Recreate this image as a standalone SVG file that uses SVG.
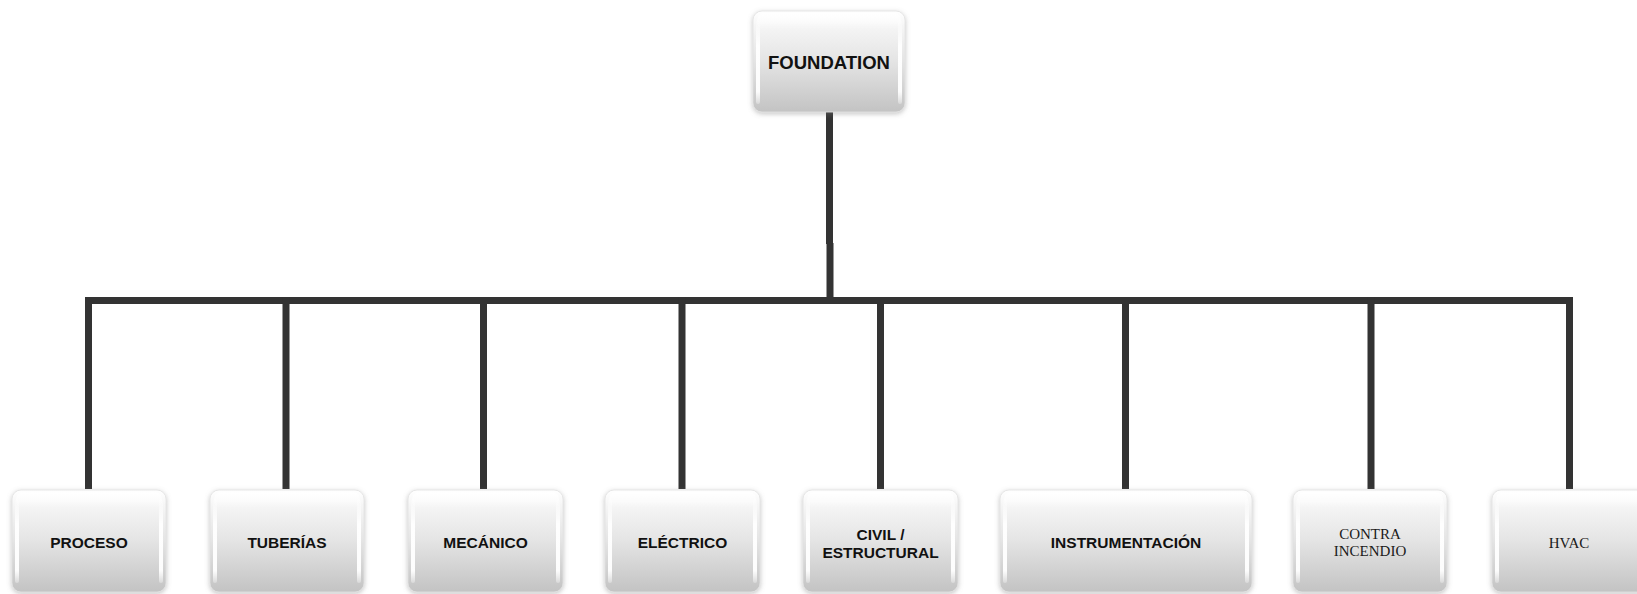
<svg xmlns="http://www.w3.org/2000/svg" width="1637" height="594" viewBox="0 0 1637 594">
  <defs>
    <linearGradient id="body" x1="0" y1="0" x2="0" y2="1">
      <stop offset="0" stop-color="#ffffff"/>
      <stop offset="0.14" stop-color="#f6f6f6"/>
      <stop offset="0.5" stop-color="#e4e4e4"/>
      <stop offset="1" stop-color="#c3c3c3"/>
    </linearGradient>
    <linearGradient id="gloss" x1="0" y1="0" x2="0" y2="1">
      <stop offset="0" stop-color="#ffffff" stop-opacity="0.95"/>
      <stop offset="1" stop-color="#ffffff" stop-opacity="0"/>
    </linearGradient>
    <linearGradient id="side" x1="0" y1="0" x2="0" y2="1">
      <stop offset="0" stop-color="#ffffff" stop-opacity="0.2"/>
      <stop offset="0.3" stop-color="#ffffff" stop-opacity="0.95"/>
      <stop offset="0.85" stop-color="#ffffff" stop-opacity="0.95"/>
      <stop offset="1" stop-color="#ffffff" stop-opacity="0.3"/>
    </linearGradient>
    <filter id="halo" x="-20%" y="-20%" width="140%" height="140%">
      <feDropShadow dx="0" dy="1.5" stdDeviation="2.5" flood-color="#7a7a7a" flood-opacity="0.45"/>
    </filter>
    <style>
      .box { fill: url(#body); stroke: #e2e2e2; stroke-width: 0.8; filter: url(#halo); }
      .gloss { fill: url(#gloss); }
      .side { fill: url(#side); }
      .lbl { font-family: "Liberation Sans", Arial, sans-serif; font-weight: bold; font-size: 15.5px; fill: #111; text-anchor: middle; }
      .top { font-size: 18.5px; }
      .serif { font-family: "Liberation Serif", "Times New Roman", serif; font-weight: normal; font-size: 15px; fill: #1a1a1a; }
      .wire { stroke: #333333; stroke-width: 7; fill: none; }
    </style>
  </defs>

  <rect width="1637" height="594" fill="#ffffff"/>

  <!-- connectors: trunk, bus and drops -->
  <g id="connectors">
    <line class="wire" x1="829.5" y1="108" x2="829.5" y2="244"/>
    <line class="wire" x1="830" y1="243" x2="830" y2="302"/>
    <line class="wire" x1="85" y1="300.5" x2="1573" y2="300.5"/>
    <path class="wire" d="M88.5 297 V489 M286 297 V489 M483.5 297 V489 M682 297 V489 M880.5 297 V489 M1125.5 297 V489 M1371 297 V489 M1569.5 297 V489"/>
  </g>

  <!-- top node -->
  <g id="node-foundation">
    <rect class="box" x="753" y="11" width="152" height="101" rx="9"/>
    <rect class="gloss" x="757" y="13" width="144" height="16" rx="7"/>
    <rect class="side" x="756" y="20" width="4" height="84" rx="2"/>
    <rect class="side" x="898" y="20" width="4" height="84" rx="2"/>
    <text class="lbl top" x="829" y="68.5">FOUNDATION</text>
  </g>

  <!-- discipline nodes -->
  <g id="node-proceso">
    <rect class="box" x="12" y="490" width="154" height="102" rx="9"/>
    <rect class="gloss" x="16" y="492" width="146" height="16" rx="7"/>
    <rect class="side" x="15" y="499" width="4" height="84" rx="2"/>
    <rect class="side" x="159" y="499" width="4" height="84" rx="2"/>
    <text class="lbl" x="89" y="547.5">PROCESO</text>
  </g>

  <g id="node-tuberias">
    <rect class="box" x="210" y="490" width="154" height="102" rx="9"/>
    <rect class="gloss" x="214" y="492" width="146" height="16" rx="7"/>
    <rect class="side" x="213" y="499" width="4" height="84" rx="2"/>
    <rect class="side" x="357" y="499" width="4" height="84" rx="2"/>
    <text class="lbl" x="287" y="547.5">TUBERÍAS</text>
  </g>

  <g id="node-mecanico">
    <rect class="box" x="408" y="490" width="155" height="102" rx="9"/>
    <rect class="gloss" x="412" y="492" width="147" height="16" rx="7"/>
    <rect class="side" x="411" y="499" width="4" height="84" rx="2"/>
    <rect class="side" x="556" y="499" width="4" height="84" rx="2"/>
    <text class="lbl" x="485.5" y="547.5">MECÁNICO</text>
  </g>

  <g id="node-electrico">
    <rect class="box" x="605" y="490" width="155" height="102" rx="9"/>
    <rect class="gloss" x="609" y="492" width="147" height="16" rx="7"/>
    <rect class="side" x="608" y="499" width="4" height="84" rx="2"/>
    <rect class="side" x="753" y="499" width="4" height="84" rx="2"/>
    <text class="lbl" x="682.5" y="547.5">ELÉCTRICO</text>
  </g>

  <g id="node-civil">
    <rect class="box" x="803" y="490" width="155" height="102" rx="9"/>
    <rect class="gloss" x="807" y="492" width="147" height="16" rx="7"/>
    <rect class="side" x="806" y="499" width="4" height="84" rx="2"/>
    <rect class="side" x="951" y="499" width="4" height="84" rx="2"/>
    <text class="lbl" x="880.5" y="539.5">CIVIL /</text>
    <text class="lbl" x="880.5" y="557.5">ESTRUCTURAL</text>
  </g>

  <g id="node-instrumentacion">
    <rect class="box" x="1000" y="490" width="252" height="102" rx="9"/>
    <rect class="gloss" x="1004" y="492" width="244" height="16" rx="7"/>
    <rect class="side" x="1003" y="499" width="4" height="84" rx="2"/>
    <rect class="side" x="1245" y="499" width="4" height="84" rx="2"/>
    <text class="lbl" x="1126" y="547.5">INSTRUMENTACIÓN</text>
  </g>

  <g id="node-contra-incendio">
    <rect class="box" x="1293" y="490" width="154" height="102" rx="9"/>
    <rect class="gloss" x="1297" y="492" width="146" height="16" rx="7"/>
    <rect class="side" x="1296" y="499" width="4" height="84" rx="2"/>
    <rect class="side" x="1440" y="499" width="4" height="84" rx="2"/>
    <text class="lbl serif" x="1370" y="538.5">CONTRA</text>
    <text class="lbl serif" x="1370" y="555.5">INCENDIO</text>
  </g>

  <g id="node-hvac">
    <rect class="box" x="1492" y="490" width="155" height="102" rx="9"/>
    <rect class="gloss" x="1496" y="492" width="147" height="16" rx="7"/>
    <rect class="side" x="1495" y="499" width="4" height="84" rx="2"/>
    <text class="lbl serif" x="1569" y="547.5">HVAC</text>
  </g>
</svg>
